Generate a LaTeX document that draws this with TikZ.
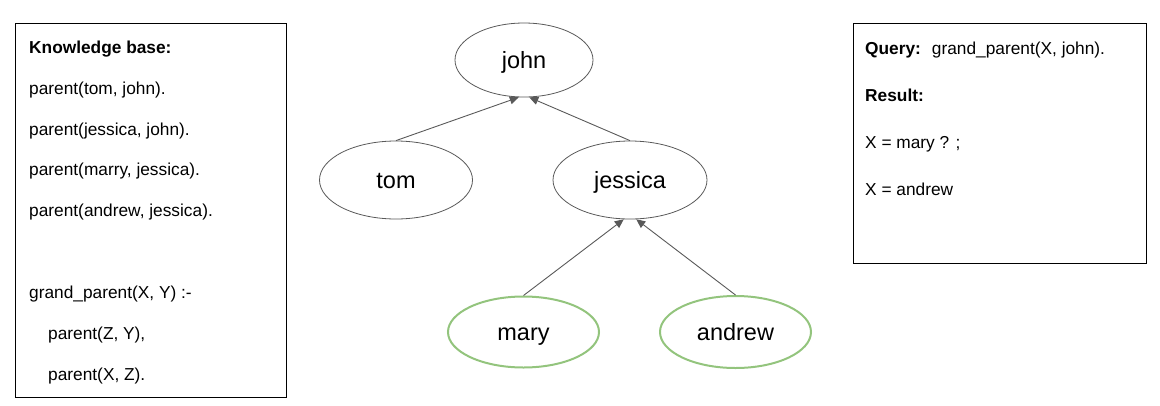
\documentclass[tikz,border=0pt]{standalone}
\usepackage{fontspec}
\setmainfont{Liberation Sans}
\usetikzlibrary{arrows.meta,shapes.geometric}
\definecolor{edgegray}{HTML}{595959}
\definecolor{leafgreen}{HTML}{93C47D}
\begin{document}
\begin{tikzpicture}[x=1pt,y=-1pt,
  person/.style={ellipse,draw=edgegray,line width=0.8pt,inner sep=0pt,
    text height=18pt,text depth=2pt,
    font=\fontsize{23.5}{26}\selectfont},
  leaf/.style={person,draw=leafgreen,line width=2pt},
  panel/.style={draw=black,line width=1pt},
  txt/.style={anchor=base west,inner sep=0pt,font=\fontsize{17.3}{20}\selectfont},
  link/.style={draw=edgegray,line width=0.9pt,-{Triangle[length=9pt,width=8pt]}}]
\useasboundingbox (0,0) rectangle (1160,405);
% panels
\draw[panel] (15,23) rectangle (286,397);
\draw[panel] (853,23) rectangle (1146,263);
% knowledge base text
\node[txt] (kb) at (29,53.5) {\textbf{Knowledge base:}};
\node[txt] (f1) at (29,94.3) {parent(tom, john).};
\node[txt] (f2) at (29,135.1) {parent(jessica, john).};
\node[txt] (f3) at (29,175.9) {parent(marry, jessica).};
\node[txt] (f4) at (29,216.7) {parent(andrew, jessica).};
\node[txt] (r0) at (29,298) {grand\_parent(X, Y) :-};
\node[txt] (r1) at (48,339) {parent(Z, Y),};
\node[txt] (r2) at (48,380) {parent(X, Z).};
% query text
\node[txt] (q) at (865,54) {\textbf{Query:}\hspace{11pt}grand\_parent(X, john).};
\node[txt] (res) at (865,101.5) {\textbf{Result:}};
\node[txt] (x1) at (865,148) {X = mary ? ;};
\node[txt] (x2) at (865,195) {X = andrew};
% tree
\node[person,minimum width=138pt,minimum height=74pt] (john) at (524,60) {john};
\node[person,minimum width=153pt,minimum height=78pt] (tom) at (396,180) {tom};
\node[person,minimum width=154pt,minimum height=78pt] (jessica) at (630,180) {jessica};
\node[leaf,minimum width=151pt,minimum height=71pt] (mary) at (523.5,332) {mary};
\node[leaf,minimum width=151pt,minimum height=72pt] (andrew) at (735.5,332) {andrew};
\draw[link] (tom.north) -- (john.262);
\draw[link] (jessica.north) -- (john.278);
\draw[link] (mary.north) -- (jessica.261);
\draw[link] (andrew.north) -- (jessica.279);
\end{tikzpicture}
\end{document}
